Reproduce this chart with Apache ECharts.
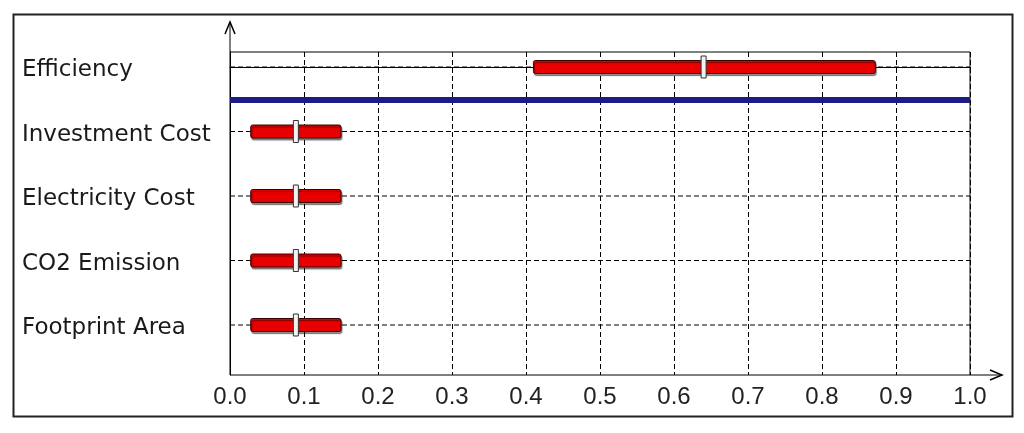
<!DOCTYPE html>
<html>
<head>
<meta charset="utf-8">
<script src="https://cdn.jsdelivr.net/npm/echarts@6/dist/echarts.min.js"></script>
<style>
  html, body { margin: 0; padding: 0; background: #fff; }
  #chart { width: 1024px; height: 433px; }
</style>
</head>
<body>
<div id="chart"></div>
<script>
// data
const categories = ["Efficiency", "Investment Cost", "Electricity Cost", "CO2 Emission", "Footprint Area"];
const lowValues  = [0.41, 0.028, 0.028, 0.028, 0.028];
const midValues  = [0.64, 0.089, 0.089, 0.089, 0.089];
const highValues = [0.872, 0.15, 0.15, 0.15, 0.15];
const separatorAt = 0.5; // blue line between Efficiency and the rest
const xMin = 0, xMax = 1, xStep = 0.1;

const chart = echarts.init(document.getElementById("chart"));

const rows = categories.map((c, i) => [i, lowValues[i], midValues[i], highValues[i]]);

function renderRow(params, api) {
  const i = api.value(0);
  const a = api.coord([api.value(1), i]);
  const m = api.coord([api.value(2), i]);
  const b = api.coord([api.value(3), i]);
  const g0 = api.coord([xMin, i]);
  const g1 = api.coord([xMax, i]);
  const barH = 13, markW = 5, markH = 22;
  return {
    type: "group",
    children: [
      { // dashed row grid line
        type: "line",
        shape: { x1: g0[0], y1: g0[1], x2: g1[0], y2: g1[1] },
        style: { stroke: "#000", lineWidth: 1, lineDash: [5, 3] }
      },
      {
        type: "rect",
        shape: { x: a[0], y: a[1] - barH / 2, width: b[0] - a[0], height: barH, r: 2 },
        style: {
          fill: "#e80000", stroke: "#3a0000", lineWidth: 1,
          shadowColor: "rgba(0,0,0,0.45)", shadowOffsetX: 1, shadowOffsetY: 2, shadowBlur: 1
        }
      },
      {
        type: "rect",
        shape: { x: m[0] - markW / 2, y: m[1] - markH / 2, width: markW, height: markH },
        style: { fill: "#f2f2f2", stroke: "#333", lineWidth: 1 }
      }
    ]
  };
}

const option = {
  animation: false,
  grid: {
    left: 230, right: 54, top: 52, bottom: 58,
    show: true, borderColor: "#000", borderWidth: 1
  },
  xAxis: {
    type: "value",
    min: xMin, max: xMax, interval: xStep,
    axisLine: { show: true, lineStyle: { color: "#000", width: 1 } },
    axisTick: { show: true, length: 6, lineStyle: { color: "#000" } },
    axisLabel: {
      color: "#222", fontFamily: "Liberation Sans", fontSize: 24, margin: 10,
      formatter: v => v.toFixed(1)
    },
    splitLine: { show: true, lineStyle: { color: "#000", width: 1, type: [5, 3] } }
  },
  yAxis: {
    type: "value",
    inverse: true,
    min: -0.2326, max: 4.775,
    axisLine: { show: true, lineStyle: { color: "#000", width: 1 } },
    axisTick: { show: false },
    splitLine: { show: false },
    axisLabel: {
      // labels sit a few px below their row line in the original
      customValues: categories.map((c, i) => i + 0.05),
      formatter: v => categories[Math.round(v)] || "",
      color: "#1a1a1a", fontFamily: "DejaVu Sans", fontSize: 23,
      align: "left", margin: 208
    }
  },
  series: [
    {
      type: "custom",
      renderItem: renderRow,
      encode: { x: [1, 2, 3], y: 0 },
      data: rows,
      z: 5,
      markLine: {
        silent: true,
        symbol: "none",
        label: { show: false },
        lineStyle: { color: "#1c1c84", width: 6, type: "solid" },
        data: [{ yAxis: separatorAt }]
      }
    }
  ],
  graphic: [
    { // outer frame
      type: "rect", left: 11, top: 12,
      shape: { width: 999, height: 402 },
      style: { fill: "none", stroke: "#222", lineWidth: 2 }
    },
    { // y-axis extension + arrow
      type: "polyline", silent: true,
      shape: { points: [[230, 52], [230, 22]] },
      style: { stroke: "#000", lineWidth: 1, fill: "none" }
    },
    {
      type: "polyline", silent: true,
      shape: { points: [[225, 34], [230, 22], [235, 34]] },
      style: { stroke: "#000", lineWidth: 1.5, fill: "none" }
    },
    { // x-axis extension + arrow
      type: "polyline", silent: true,
      shape: { points: [[970, 375], [1002, 375]] },
      style: { stroke: "#000", lineWidth: 1, fill: "none" }
    },
    {
      type: "polyline", silent: true,
      shape: { points: [[990, 370], [1002, 375], [990, 380]] },
      style: { stroke: "#000", lineWidth: 1.5, fill: "none" }
    }
  ]
};

chart.setOption(option);
</script>
</body>
</html>
